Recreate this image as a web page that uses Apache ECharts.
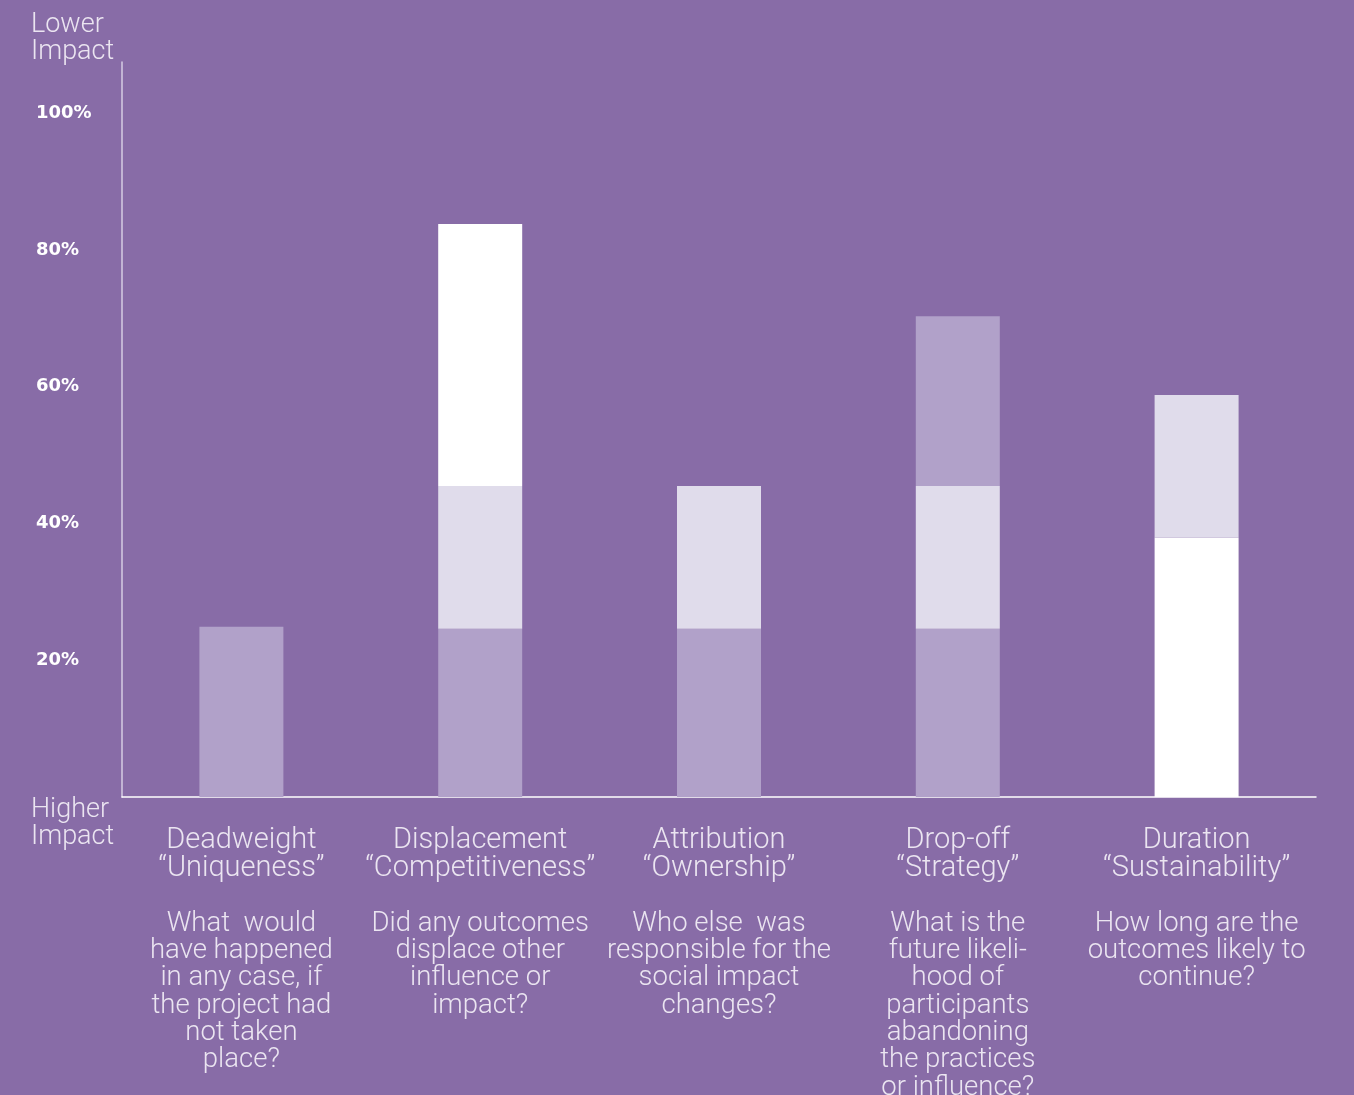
<!DOCTYPE html>
<html>
<head>
<meta charset="utf-8">
<script src="https://cdn.jsdelivr.net/npm/echarts@6/dist/echarts.min.js"></script>
<style>
  html, body { margin: 0; padding: 0; background: #886ca7; }
  #chart { width: 1354px; height: 1095px; }
</style>
</head>
<body>
<div id="chart"></div>
<script>
const categories = ['Deadweight', 'Displacement', 'Attribution', 'Drop-off', 'Duration']
const aliases = ['“Uniqueness”', '“Competitiveness”', '“Ownership”', '“Strategy”', '“Sustainability”']
const questions = [
  'What  would\nhave happened\nin any case, if\nthe project had\nnot taken\nplace?',
  'Did any outcomes\ndisplace other\ninfluence or\nimpact?',
  'Who else  was\nresponsible for the\nsocial impact\nchanges?',
  'What is the\nfuture likeli-\nhood of\nparticipants\nabandoning\nthe practices\nor influence?',
  'How long are the\noutcomes likely to\ncontinue?'
]
// stacked segments, bottom to top
const layer1 = [24.9, 24.6, 24.6, 24.6, 37.9]
const layer2 = [0, 20.9, 20.9, 20.9, 20.9]
const layer3 = [0, 38.3, 0, 24.8, 0]
// shade of each segment: p = purple, l = lavender, w = white
const shade1 = ['p', 'p', 'p', 'p', 'w']
const shade2 = ['l', 'l', 'l', 'l', 'l']
const shade3 = ['p', 'w', 'p', 'p', 'p']
const yTicks = [20, 40, 60, 80, 100]

const colorOf = { p: '#b1a1c9', l: '#e0dceb', w: '#ffffff' }

function segs(vals, shades) {
  return vals.map((v, i) => ({ value: v, itemStyle: { color: colorOf[shades[i]] } }))
}

var chart = echarts.init(document.getElementById('chart'))
var textCol = '#ebe5f1'

var option = {
  backgroundColor: '#886ca7',
  animation: false,
  grid: { left: 122, right: 38, top: 62, bottom: 298, outerBoundsMode: 'none', containLabel: false },
  xAxis: {
    type: 'category',
    data: categories,
    axisLine: { lineStyle: { color: '#ffffff', width: 1.5 } },
    axisTick: { show: false },
    axisLabel: {
      interval: 0,
      margin: 30,
      color: textCol,
      fontFamily: 'Roboto',
      fontWeight: 300,
      align: 'center',
      formatter: (v, i) => {
        const q = questions[i].split('\n').map(l => '{q|' + l + '}').join('\n')
        return '{t|' + v + '}\n{t|' + aliases[i] + '}\n{q| }\n' + q
      },
      rich: {
        t: { fontSize: 29, lineHeight: 28, color: textCol, fontFamily: 'Roboto', fontWeight: 300 },
        q: { fontSize: 27.5, lineHeight: 27.3, color: textCol, fontFamily: 'Roboto', fontWeight: 300 }
      }
    }
  },
  yAxis: {
    type: 'value',
    min: 0,
    max: 107.5,
    interval: 20,
    axisLine: { show: true, lineStyle: { color: '#d6cce3', width: 1.5 } },
    axisTick: { show: false },
    splitLine: { show: false },
    axisLabel: {
      margin: 86,
      align: 'left',
      verticalAlign: 'middle',
      padding: [3, 0, 0, 0],
      color: '#ffffff',
      fontFamily: 'DejaVu Sans',
      fontWeight: 600,
      fontSize: 18,
      formatter: v => yTicks.includes(v) ? v + '%' : ''
    }
  },
  series: [
    { type: 'bar', stack: 's', barWidth: 84, data: segs(layer1, shade1) },
    { type: 'bar', stack: 's', barWidth: 84, data: segs(layer2, shade2) },
    { type: 'bar', stack: 's', barWidth: 84, data: segs(layer3, shade3) }
  ],
  graphic: [
    {
      type: 'text', left: 31, top: 12,
      style: { text: 'Lower\nImpact', fill: textCol, font: '300 27px Roboto', lineHeight: 27 }
    },
    {
      type: 'text', left: 31, top: 797,
      style: { text: 'Higher\nImpact', fill: textCol, font: '300 27px Roboto', lineHeight: 27 }
    }
  ]
}

option && chart.setOption(option)
</script>
</body>
</html>
